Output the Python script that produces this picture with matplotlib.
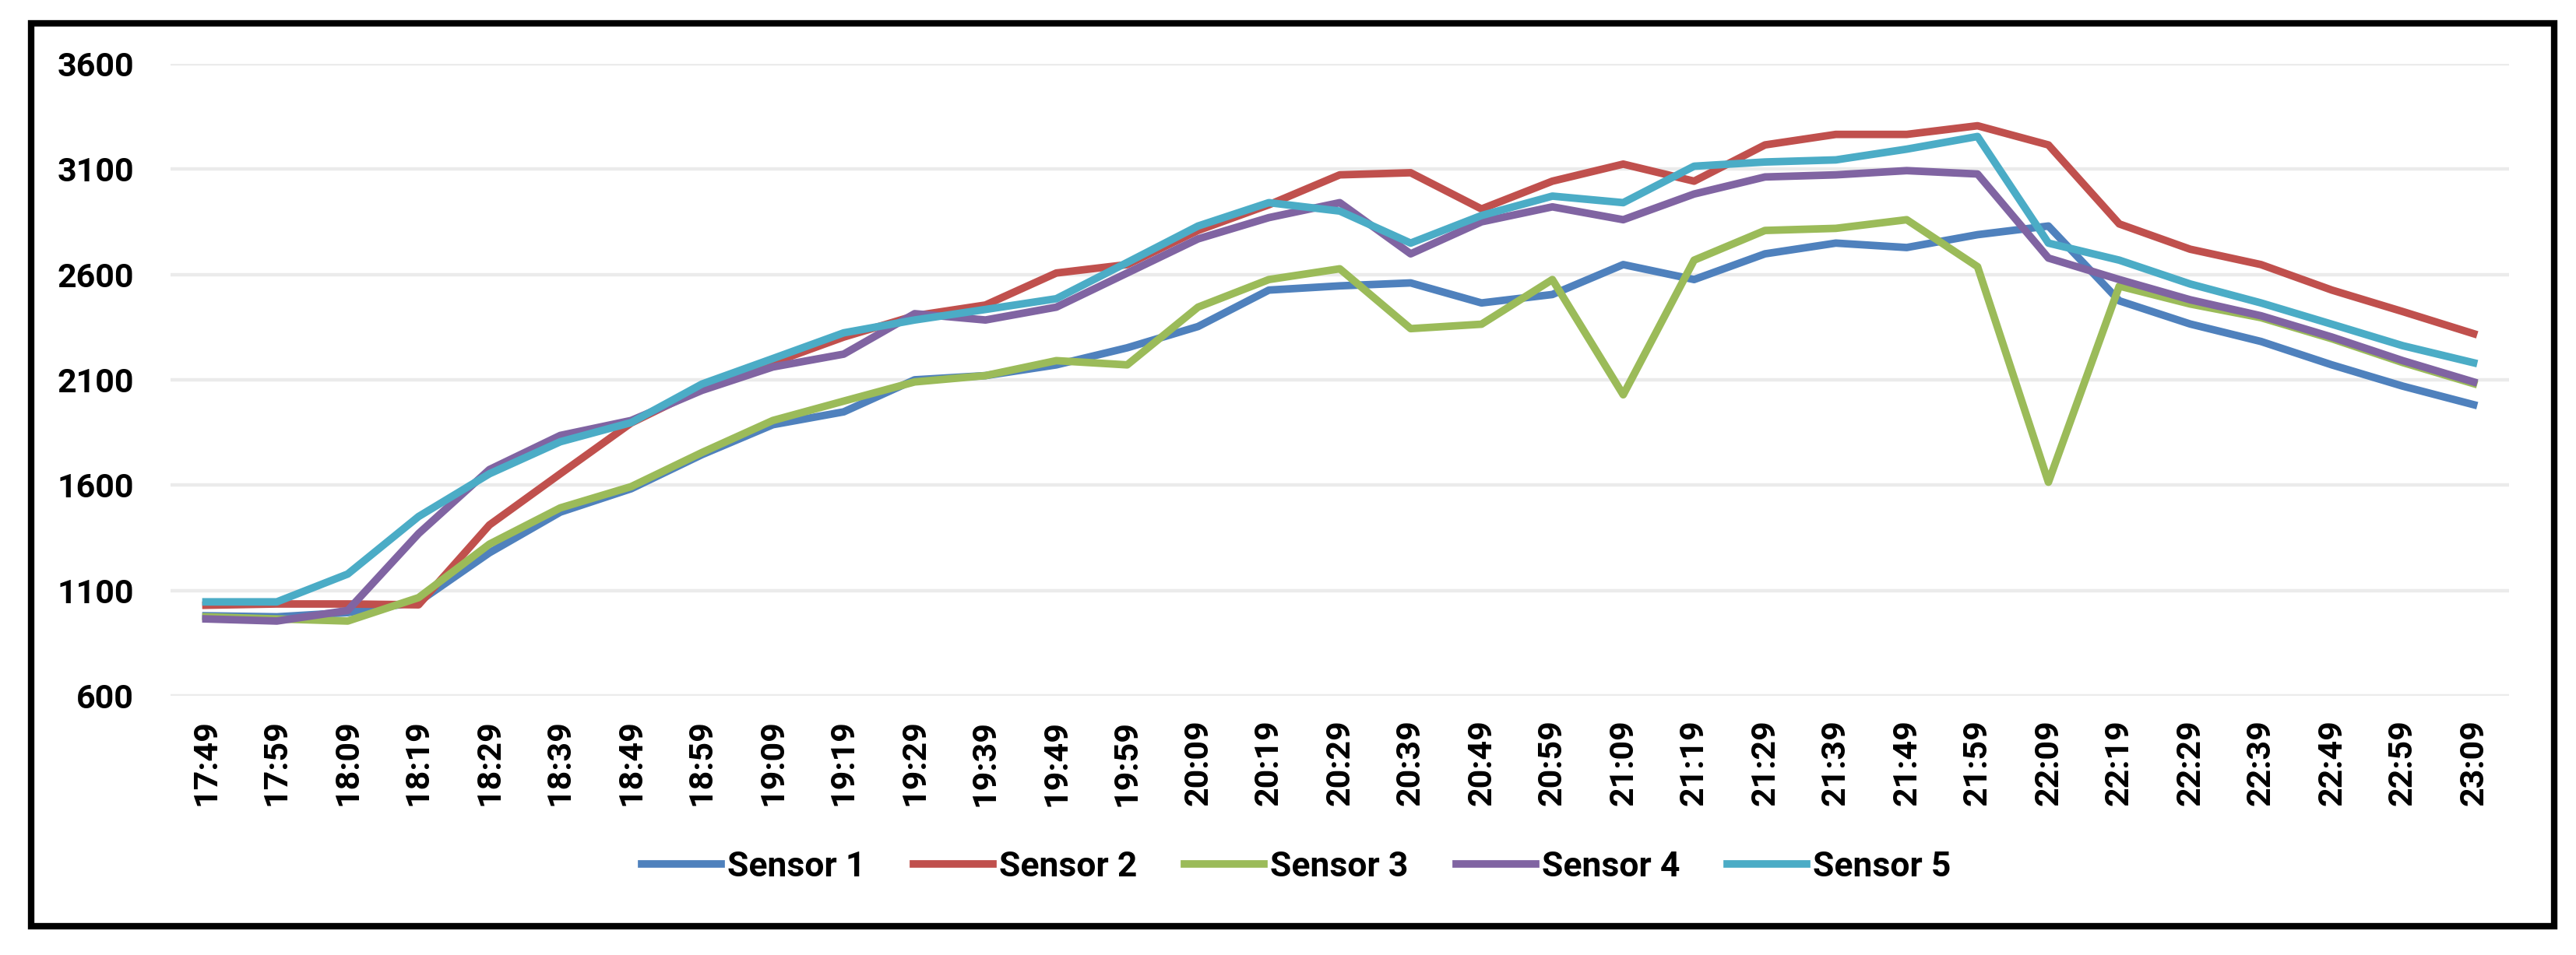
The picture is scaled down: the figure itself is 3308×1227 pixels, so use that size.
import matplotlib
matplotlib.use("Agg")
import matplotlib.pyplot as plt
from matplotlib.patches import Rectangle

# time stamps on the category axis
times = ["17:49", "17:59", "18:09", "18:19", "18:29", "18:39", "18:49", "18:59",
         "19:09", "19:19", "19:29", "19:39", "19:49", "19:59", "20:09", "20:19",
         "20:29", "20:39", "20:49", "20:59", "21:09", "21:19", "21:29", "21:39",
         "21:49", "21:59", "22:09", "22:19", "22:29", "22:39", "22:49", "22:59",
         "23:09"]

# readings per sensor
sensor1 = [980, 975, 995, 1046, 1279, 1472, 1583, 1745, 1887, 1948, 2100, 2120,
           2171, 2252, 2353, 2526, 2546, 2560, 2465, 2505, 2647, 2576, 2698, 2749,
           2728, 2789, 2830, 2475, 2365, 2282, 2171, 2070, 1982]
sensor2 = [1030, 1036, 1036, 1032, 1411, 1654, 1895, 2060, 2181, 2303, 2404, 2455,
           2607, 2647, 2809, 2931, 3073, 3083, 2911, 3043, 3124, 3043, 3215, 3265,
           3265, 3306, 3215, 2840, 2720, 2647, 2526, 2424, 2319]
sensor3 = [975, 965, 955, 1066, 1320, 1492, 1593, 1755, 1907, 1999, 2090, 2120,
           2191, 2171, 2445, 2576, 2627, 2343, 2364, 2576, 2029, 2668, 2809, 2819,
           2860, 2637, 1614, 2545, 2460, 2395, 2295, 2182, 2082]
sensor4 = [965, 955, 1005, 1370, 1674, 1836, 1907, 2050, 2161, 2222, 2414, 2384,
           2445, 2607, 2769, 2870, 2941, 2698, 2850, 2921, 2860, 2982, 3063, 3073,
           3093, 3077, 2678, 2576, 2480, 2404, 2303, 2191, 2090]
sensor5 = [1046, 1046, 1178, 1451, 1654, 1806, 1897, 2080, 2201, 2323, 2384, 2434,
           2485, 2657, 2830, 2941, 2901, 2749, 2880, 2972, 2941, 3114, 3134, 3144,
           3195, 3255, 2749, 2668, 2555, 2465, 2364, 2262, 2181]

labels = ["Sensor 1", "Sensor 2", "Sensor 3", "Sensor 4", "Sensor 5"]
colors = ["#4F81BD", "#C0504D", "#9BBB59", "#8064A2", "#4BACC6"]
yticks = [600, 1100, 1600, 2100, 2600, 3100, 3600]

plt.rcParams["font.family"] = ["Roboto", "DejaVu Sans"]

W, H = 3308, 1227
fig = plt.figure(figsize=(W / 100, H / 100), dpi=100)
ax = fig.add_axes([219 / W, 1 - 894 / H, (3222 - 219) / W, (894 - 82) / H])

x = list(range(len(times)))
for vals, lab, c in zip([sensor1, sensor2, sensor3, sensor4, sensor5], labels, colors):
    ax.plot(x, vals, color=c, lw=7, label=lab)

ax.set_xlim(-0.5, len(times) - 0.5)
ax.set_ylim(600, 3600)
ax.set_yticks(yticks)
ax.set_yticklabels([str(v) for v in yticks], fontweight="bold", fontsize=31)
ax.set_xticks(x)
ax.set_xticklabels(times, rotation=90, fontweight="bold", fontsize=31)
ax.tick_params(axis="y", length=0, pad=34)
ax.tick_params(axis="x", length=0, pad=22)
ax.grid(axis="y", color="#EBEBEB", lw=3.2)
ax.set_axisbelow(True)
for s in ax.spines.values():
    s.set_visible(False)

leg = fig.legend(loc="center", bbox_to_anchor=(1665 / W, 1 - 1114 / H), ncol=5,
                 frameon=False, prop={"weight": "bold", "size": 32},
                 handlelength=2.3, handletextpad=0.18, columnspacing=1.37)

# black border around the whole chart
fig.patches.append(Rectangle((40 / W, 1 - 1190 / H), 3240 / W, 1160 / H,
                             transform=fig.transFigure, fill=False,
                             edgecolor="black", lw=6))

fig.savefig("out.png", dpi=100)
